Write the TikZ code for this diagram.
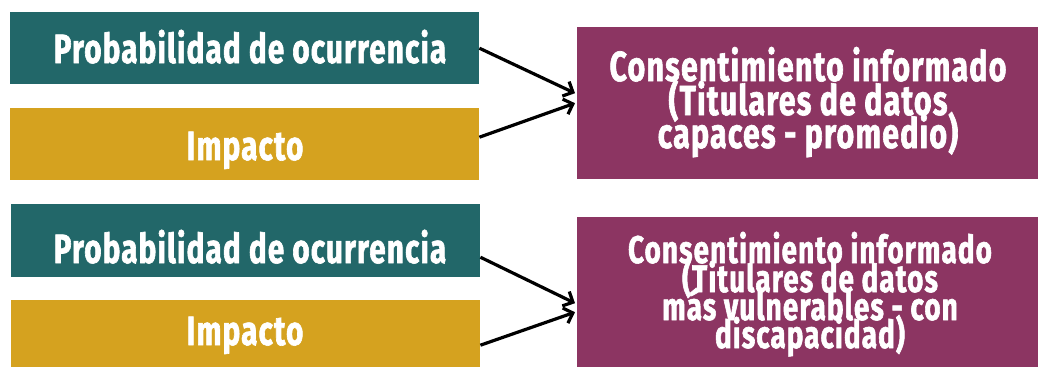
\documentclass[tikz,border=0pt]{standalone}
\usepackage{fontspec}
\newfontfamily\condfont{Fira Sans}[FakeStretch=0.72, LetterSpace=3, BoldFeatures={FakeBold=1.5}]
\usetikzlibrary{arrows.meta}
\definecolor{tealbox}{HTML}{226769}
\definecolor{goldbox}{HTML}{D5A21F}
\definecolor{plumbox}{HTML}{8C3562}
\tikzset{
  box/.style={draw=none, inner sep=0pt, anchor=north west},
  lefttext/.style={text=white, inner sep=0pt, anchor=base, font=\condfont\bfseries\fontsize{41}{44}\selectfont},
  bigtext/.style={text=white, inner sep=0pt, anchor=base, font=\condfont\bfseries\fontsize{42}{44}\selectfont},
  smalltext/.style={text=white, inner sep=0pt, anchor=base, font=\condfont\bfseries\fontsize{38.5}{41}\selectfont},
  link/.style={line width=3.2pt, -{Straight Barb[length=8pt,width=16pt]}}
}
\begin{document}
\begin{tikzpicture}[x=1pt,y=-1pt]
\useasboundingbox (0,0) rectangle (1038,367);
% left boxes
\node[box, fill=tealbox, minimum width=469pt, minimum height=72pt] (t1) at (10,12) {};
\node[box, fill=goldbox, minimum width=469pt, minimum height=72pt] (g1) at (10,108) {};
\node[box, fill=tealbox, minimum width=469pt, minimum height=73pt] (t2) at (11,204) {};
\node[box, fill=goldbox, minimum width=469pt, minimum height=67pt] (g2) at (11,300) {};
% right boxes
\node[box, fill=plumbox, minimum width=461pt, minimum height=152pt] (p1) at (577,27) {};
\node[box, fill=plumbox, minimum width=461pt, minimum height=150pt] (p2) at (577,217) {};
% left texts
\node[lefttext] (t1l) at (250,63) {Probabilidad de ocurrencia};
\node[lefttext] (g1l) at (245,160) {Impacto};
\node[lefttext] (t2l) at (250,263) {Probabilidad de ocurrencia};
\node[lefttext] (g2l) at (245,345) {Impacto};
% right texts
\node[bigtext] (p1a) at (808,81) {Consentimiento informado};
\node[bigtext] (p1b) at (808,115) {(Titulares de datos};
\node[bigtext] (p1c) at (808,148) {capaces - promedio)};
\node[smalltext] (p2a) at (810,263) {Consentimiento informado};
\node[smalltext] (p2b) at (810,292) {(Titulares de datos};
\node[smalltext] (p2c) at (810,320) {más vulnerables - con};
\node[smalltext] (p2d) at (810,348) {discapacidad)};
% connectors
\draw[link] (t1.east) -- ([yshift=10pt, xshift=-2pt]p1.west);
\draw[link] ([yshift=7pt]g1.east) -- ([xshift=-2pt]p1.west);
\draw[link] ([yshift=-16.5pt]t2.east) -- ([yshift=-11pt, xshift=-2pt]p2.west);
\draw[link] ([yshift=-11.5pt]g2.east) -- ([yshift=-20pt, xshift=-2pt]p2.west);
\end{tikzpicture}
\end{document}
